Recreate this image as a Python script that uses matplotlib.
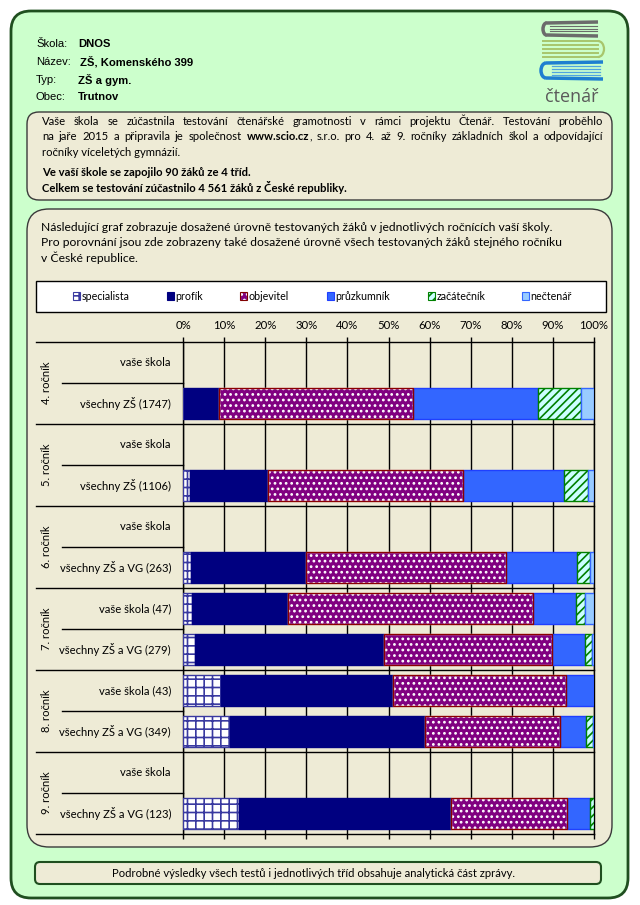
import numpy as np
import matplotlib
matplotlib.use('Agg')
import matplotlib.pyplot as plt
from matplotlib.patches import FancyBboxPatch, Rectangle, Arc

plt.rcParams['font.family'] = ['Lato', 'DejaVu Sans']
plt.rcParams['hatch.linewidth'] = 1.2

# ---- data (percent of pupils per level) ----
groups = ['4. ročník', '5. ročník', '6. ročník', '7. ročník', '8. ročník', '9. ročník']
rows = ['vaše škola', 'všechny ZŠ (1747)',
        'vaše škola', 'všechny ZŠ (1106)',
        'vaše škola', 'všechny ZŠ a VG (263)',
        'vaše škola (47)', 'všechny ZŠ a VG (279)',
        'vaše škola (43)', 'všechny ZŠ a VG (349)',
        'vaše škola', 'všechny ZŠ a VG (123)']
levels = ['specialista', 'profík', 'objevitel', 'průzkumník', 'začátečník', 'nečtenář']
specialista = [0, 0.3, 0, 1.8, 0, 1.9, 2.1, 3.0, 9.3, 11.4, 0, 13.7]
profik      = [0, 8.5, 0, 18.9, 0, 28.1, 23.4, 45.8, 41.9, 47.4, 0, 51.4]
objevitel   = [0, 47.2, 0, 47.4, 0, 48.6, 59.6, 41.0, 41.9, 33.0, 0, 28.4]
pruzkumnik  = [0, 30.4, 0, 24.6, 0, 17.2, 10.6, 8.1, 7.0, 6.3, 0, 5.6]
zacatecnik  = [0, 10.4, 0, 5.9, 0, 3.3, 2.1, 1.6, 0, 1.6, 0, 0.9]
nectenar    = [0, 3.2, 0, 1.4, 0, 0.9, 2.1, 0.5, 0, 0.3, 0, 0]
ticks = [0, 10, 20, 30, 40, 50, 60, 70, 80, 90, 100]

# face, hatch, hatch/edge colour
styles = [('white', '++', '#3A3AA0'),
          ('#000080', None, '#000080'),
          ('#800080', '...', 'white'),
          ('#3366FF', None, '#1F3FFF'),
          ('#CCFFFF', '////', '#008000'),
          ('#99CCFF', None, '#3366FF')]

BEIGE = '#EEEBD6'
GREEN = '#CCFFCC'
DKGREEN = '#1F4F1F'

fig = plt.figure(figsize=(6.4, 9.05), dpi=100)
bg = fig.add_axes([0, 0, 1, 1])
bg.set_xlim(0, 640)
bg.set_ylim(905, 0)
bg.axis('off')

def rbox(x, y, w, h, r, fc, ec, lw):
    bg.add_patch(FancyBboxPatch((x, y), w, h, boxstyle=f'round,pad=0,rounding_size={r}',
                                fc=fc, ec=ec, lw=lw))

rbox(11, 11, 617, 887, 20, GREEN, DKGREEN, 2)
rbox(27, 112, 585, 88, 12, BEIGE, '#3A3A3A', 1)
rbox(27, 209, 585, 638, 22, BEIGE, '#3A3A3A', 1)
rbox(35, 862, 566, 22, 5, BEIGE, DKGREEN, 1.5)

# header
hdr = ['Liberation Sans', 'DejaVu Sans']
head = [('Škola:', 'DNOS', 44, 78), ('Název:', 'ZŠ, Komenského 399', 62, 80),
        ('Typ:', 'ZŠ a gym.', 80, 78), ('Obec:', 'Trutnov', 97, 78)]
for lab, val, yy, xv in head:
    bg.text(36, yy, lab, family=hdr, fontsize=8.1, va='center')
    bg.text(xv, yy, val, family=hdr, fontsize=8.1, fontweight='bold', va='center')

# logo
gray, lgreen, blue = '#6B6B6B', '#A8C66C', '#1E7FD0'
bg.plot([547, 598], [23, 22], color=gray, lw=2.5, solid_capstyle='butt')
bg.plot([547, 598], [35, 36], color=gray, lw=2.5, solid_capstyle='butt')
bg.add_patch(Arc((547, 29), 8, 12.5, theta1=90, theta2=270, color=gray, lw=2.5))
for yy in [26.5, 29, 31.5]:
    bg.plot([550, 597], [yy, yy], color=gray, lw=0.8)
for yy in [41, 45, 49, 53, 57]:
    bg.plot([543, 598], [yy, yy], color=lgreen, lw=1.4)
bg.add_patch(Arc((598, 49), 12, 16, theta1=-90, theta2=90, color=lgreen, lw=1.6))
bg.plot([546, 603], [63, 62], color=blue, lw=2.5, solid_capstyle='butt')
bg.plot([546, 603], [78, 79], color=blue, lw=2.5, solid_capstyle='butt')
bg.add_patch(Arc((546, 70.5), 10, 15, theta1=90, theta2=270, color=blue, lw=2.5))
for yy in [66, 69, 72, 75]:
    bg.plot([552, 600], [yy, yy], color='#4FA3E0', lw=0.9)
bg.text(572, 97, 'čtenář', fontsize=13, color='#5A5A5A', ha='center', va='center',
        family=['Open Sans', 'DejaVu Sans'])

renderer = fig.canvas.get_renderer()

def justify(words, x0, x1, y, size):
    # words: list of lists of (text, weight) segments
    items = []
    for segs in words:
        ts = []
        for s, wt in segs:
            t = bg.text(0, y, s, fontsize=size, fontweight=wt, va='center', ha='left')
            ts.append((t, t.get_window_extent(renderer).width))
        items.append(ts)
    total = sum(w for ts in items for _, w in ts)
    gap = (x1 - x0 - total) / (len(items) - 1)
    x = x0
    for ts in items:
        for t, w in ts:
            t.set_x(x)
            x += w
        x += gap

fs = 8.15
l1 = 'Vaše škola se zúčastnila testování čtenářské gramotnosti v rámci projektu Čtenář. Testování proběhlo'
justify([[(w, 'normal')] for w in l1.split()], 42, 603, 121.5, fs)
l2 = [[(w, 'normal')] for w in 'na jaře 2015 a připravila je společnost'.split()]
l2 += [[('www.scio.cz', 'bold'), (',', 'normal')]]
l2 += [[(w, 'normal')] for w in 's.r.o. pro 4. až 9. ročníky základních škol a odpovídající'.split()]
justify(l2, 42, 603, 137, fs)
bg.text(42, 152, 'ročníky víceletých gymnázií.', fontsize=fs, va='center')
bg.text(42, 172.5, 'Ve vaší škole se zapojilo 90 žáků ze 4 tříd.', fontsize=fs,
        fontweight='bold', va='center')
bg.text(42, 187, 'Celkem se testování zúčastnilo 4 561 žáků z České republiky.', fontsize=fs,
        fontweight='bold', va='center')

intro = ['Následující graf zobrazuje dosažené úrovně testovaných žáků v jednotlivých ročnících vaší školy.',
         'Pro porovnání jsou zde zobrazeny také dosažené úrovně všech testovaných žáků stejného ročníku',
         'v České republice.']
for i, s in enumerate(intro):
    bg.text(41, 227.5 + 15 * i, s, fontsize=8.7, va='center')

bg.text(313, 873.5, 'Podrobné výsledky všech testů i jednotlivých tříd obsahuje analytická část zprávy.',
        fontsize=8.1, ha='center', va='center')

# legend
bg.add_patch(Rectangle((36, 281), 570, 31, fc='white', ec='black', lw=1))
leg_x = [73, 167, 240, 327, 428, 522]
for (fc, h, ec), lx, name in zip(styles, leg_x, levels):
    bg.add_patch(Rectangle((lx, 292), 7, 8, fc=fc, hatch=h, ec=ec, lw=0.8))
    if name == 'objevitel':
        bg.add_patch(Rectangle((lx, 292), 7, 8, fill=False, ec='#800000', lw=0.8))
    bg.text(lx + 8.5, 296, name, fontsize=7.7, va='center')

# ---- chart ----
ax = fig.add_axes([183 / 640, 1 - 834 / 905, 411 / 640, 492 / 905])
ax.patch.set_visible(False)
ax.set_xlim(0, 100)
ax.set_ylim(len(rows), 0)
y = np.arange(len(rows)) + 0.5
data = np.array([specialista, profik, objevitel, pruzkumnik, zacatecnik, nectenar])
left = np.zeros(len(rows))
bh = 0.76
for vals, (fc, h, ec) in zip(data, styles):
    m = vals > 0
    ax.barh(y[m], vals[m], left=left[m], height=bh, color=fc, hatch=h,
            edgecolor=ec, lw=1, zorder=3)
    if fc == '#800080':
        ax.barh(y[m], vals[m], left=left[m], height=bh, fill=False,
                edgecolor='#8B0000', lw=1, zorder=4)
    left += vals

ax.set_xticks(ticks)
ax.set_xticklabels([f'{t}%' for t in ticks], fontsize=8.2)
ax.grid(axis='x', color='black', lw=1)
ax.set_axisbelow(True)
ax.tick_params(axis='x', top=True, bottom=True, labeltop=True, labelbottom=False,
               direction='out', length=3.6, width=1, pad=4)
ax.set_yticks([])
for s in ['top', 'bottom']:
    ax.spines[s].set_visible(False)
for s in ['left', 'right']:
    ax.spines[s].set_linewidth(1)

tr = ax.get_yaxis_transform()
for b in range(0, len(rows) + 1, 2):
    ax.plot([-147 / 411, 1], [b, b], transform=tr, color='black', lw=1, clip_on=False)
for b in range(1, len(rows), 2):
    ax.plot([-121 / 411, 0], [b, b], transform=tr, color='black', lw=1, clip_on=False)
for yy, lab in zip(y, rows):
    ax.text(-12 / 411, yy, lab, transform=tr, ha='right', va='center', fontsize=8.1)
for g, name in enumerate(groups):
    ax.text(-136 / 411, 2 * g + 1, name, transform=tr, rotation=90, ha='center',
            va='center', fontsize=8.1)

fig.savefig('out.png', dpi=100, facecolor='white')
